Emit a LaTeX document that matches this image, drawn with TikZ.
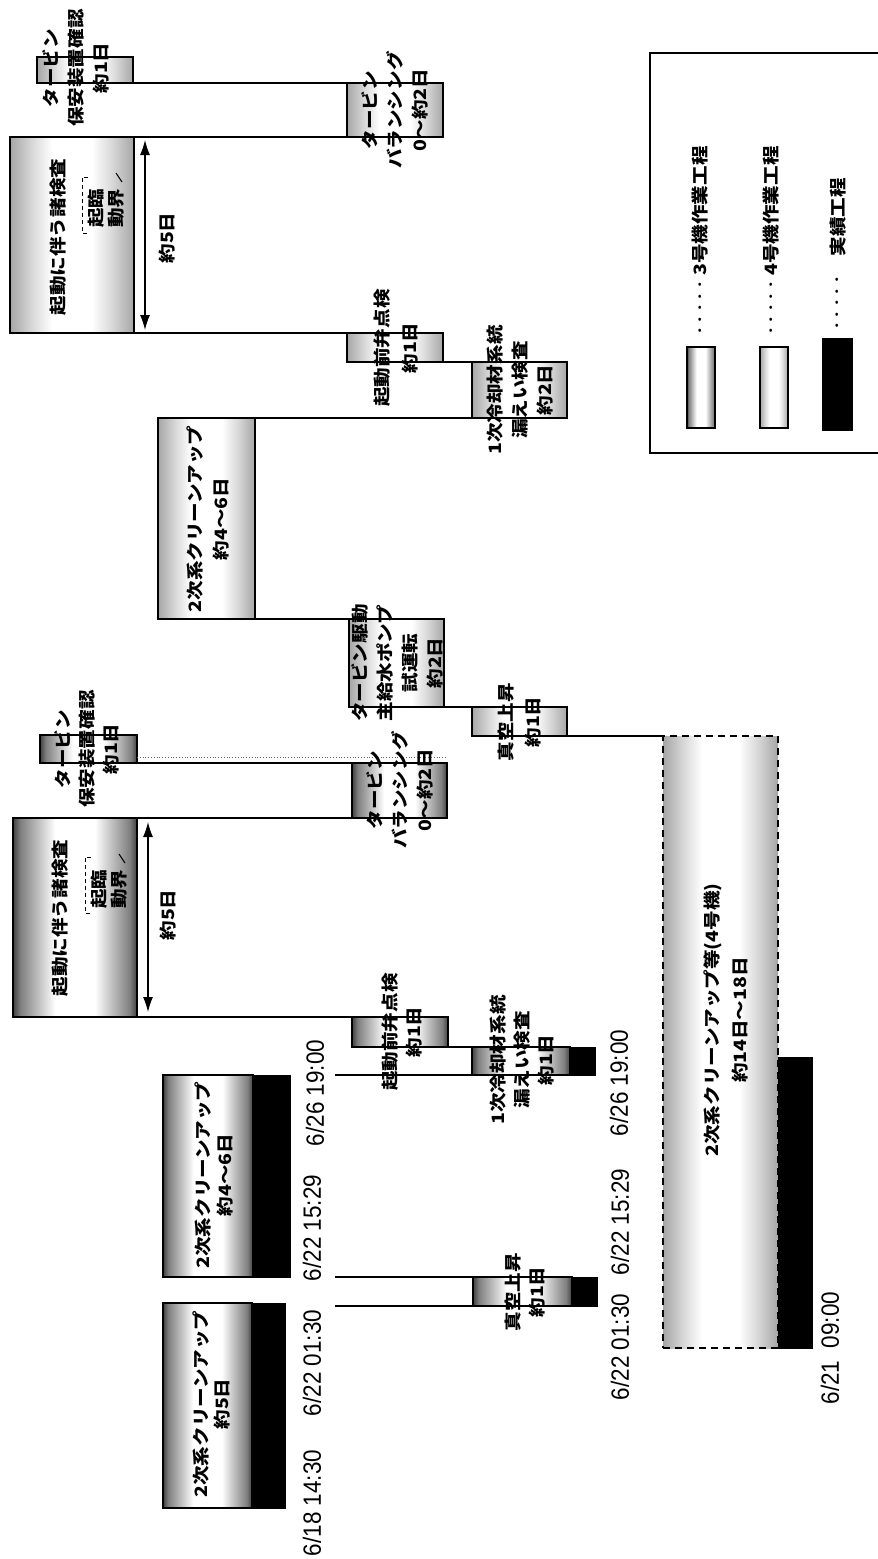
\documentclass[tikz,border=0pt]{standalone}
\usepackage{fontspec}
\newfontfamily\jp[FakeStretch=1.15]{Noto Sans CJK JP}
\newfontfamily\dtf[FakeStretch=0.9]{Liberation Sans}
\usetikzlibrary{arrows.meta}
\pgfdeclarehorizontalshading{sdark}{100bp}{color(0bp)=(black!75); color(25bp)=(black!75); color(28bp)=(black!50); color(36bp)=(black!22); color(42bp)=(white); color(58bp)=(white); color(64bp)=(black!22); color(72bp)=(black!50); color(75bp)=(black!75); color(100bp)=(black!75)}
\pgfdeclarehorizontalshading{slight}{100bp}{color(0bp)=(black!35); color(25bp)=(black!35); color(34bp)=(black!15); color(42bp)=(white); color(58bp)=(white); color(66bp)=(black!15); color(75bp)=(black!35); color(100bp)=(black!35)}
\begin{document}
\begin{tikzpicture}[x=1pt,y=-1pt, line width=1.2pt,
 bx/.style={draw=black, anchor=north west, inner sep=0pt, outer sep=0pt, line width=1.2pt},
 b3/.style={bx, shade, shading=sdark},
 b4/.style={bx, shade, shading=slight},
 blk/.style={anchor=north west, fill=black, draw=black, line width=0.6pt, inner sep=0pt, outer sep=0pt},
 lbl/.style={rotate=90, align=center, inner sep=0pt, font=\jp\bfseries\fontsize{17}{#1}\selectfont},
 lbl/.default=25,
 dt/.style={rotate=90, inner sep=0pt, font=\dtf\fontsize{25}{25}\selectfont},
 conn/.style={line width=1.4pt},
 dimarrow/.style={line width=1.2pt, {Latex[length=15pt,width=10pt]}-{Latex[length=15pt,width=10pt]}},
 brk/.style={line width=1pt, dash pattern=on 4pt off 3pt}
]
\useasboundingbox (0,0) rectangle (878,1559);

% ---------------- upper chain (light) ----------------
\node[b4, minimum width=96pt, minimum height=26pt] (uhoan) at (37,57) {};
\node[b4, minimum width=96pt, minimum height=54pt] (ubal) at (347,83) {};
\node[b4, minimum width=124pt, minimum height=196pt] (ukido) at (10,137) {};
\node[b4, minimum width=96pt, minimum height=29pt] (uben) at (347,333) {};
\node[b4, minimum width=95pt, minimum height=56pt] (urei) at (472,362) {};
\node[b4, minimum width=97pt, minimum height=201pt] (ucln) at (158,418) {};
\node[b4, minimum width=95pt, minimum height=88pt] (upump) at (349,619) {};
\node[b4, minimum width=95pt, minimum height=29pt] (ushin) at (472,707) {};
\node[b4, dashed, dash pattern=on 7pt off 5pt, minimum width=115pt, minimum height=612pt] (ubig) at (663,736) {};
\node[blk, minimum width=34pt, minimum height=291pt] (ublack) at (778,1057) {};

\draw[conn] (uhoan.south east) -- (ubal.north west);
\draw[conn] (ukido.north east) -- (ubal.south west);
\draw[conn] (ukido.south east) -- (uben.north west);
\draw[conn] (uben.south east) -- (urei.north west);
\draw[conn] (ucln.north east) -- (urei.south west);
\draw[conn] (ucln.south east) -- (upump.north west);
\draw[conn] (upump.south east) -- (ushin.north west);
\draw[conn] (ushin.south east) -- (ubig.north west);
\draw[dimarrow] ([xshift=11pt,yshift=-3pt]ukido.north east) -- ([xshift=11pt,yshift=3pt]ukido.south east);

\node[lbl] (tuhoan) at (76,68) {タービン\\保安装置確認\\約1日};
\node[lbl] (tubal) at (395,110) {タービン\\バランシング\\0〜約2日};
\node[lbl] (tukido) at (58,237) {起動に伴う諸検査};
\node[lbl=20] (tukido2) at (106,208) {起臨\\動界};
\draw[brk] (88,177) -- (82,177) -- (82,233) -- (88,233);
\draw[line width=1pt] (116,173) -- (122,182);
\node[lbl] (tu5) at (167,238) {約5日};
\node[lbl=28] (tuben) at (396,348) {起動前弁点検\\約1日};
\node[lbl] (turei) at (520,390) {1次冷却材系統\\漏えい検査\\約2日};
\node[lbl=26] (tucln) at (208,519) {2次系クリーンアップ\\約4〜6日};
\node[lbl] (tupump) at (397,663) {タービン駆動\\主給水ポンプ\\試運転\\約2日};
\node[lbl=27] (tushin) at (520,722) {真空上昇\\約1日};
\node[lbl=28] (tubig) at (726,1020) {2次系クリーンアップ等(4号機)\\約14日〜18日};

% ---------------- lower chain (dark) ----------------
\node[b3, minimum width=97pt, minimum height=28pt] (lhoan) at (40,735) {};
\node[b3, minimum width=95pt, minimum height=55pt] (lbal) at (352,763) {};
\node[b3, minimum width=124pt, minimum height=199pt] (lkido) at (13,818) {};
\node[b3, minimum width=96pt, minimum height=30pt] (lben) at (352,1017) {};
\node[b3, minimum width=98pt, minimum height=28pt] (lrei) at (472,1047) {};
\node[blk, minimum width=25pt, minimum height=28pt] (lreib) at (570,1047) {};
\node[b3, minimum width=90pt, minimum height=202pt] (lcln2) at (163,1075) {};
\node[blk, minimum width=37pt, minimum height=202pt] (lcln2b) at (253,1075) {};
\node[b3, minimum width=99pt, minimum height=29pt] (lshin) at (473,1277) {};
\node[blk, minimum width=25pt, minimum height=29pt] (lshinb) at (572,1277) {};
\node[b3, minimum width=89pt, minimum height=205pt] (lcln1) at (163,1303) {};
\node[blk, minimum width=33pt, minimum height=205pt] (lcln1b) at (252,1303) {};

\coordinate (c1075) at (335,1075);
\coordinate (c1277) at (335,1277);
\coordinate (c1306) at (335,1306);
\coordinate (d757a) at (137,757);
\coordinate (d757b) at (447,757);

\draw[line width=0.8pt, dotted, black!60] (d757a) -- (d757b);
\draw[conn] (lhoan.south east) -- (lbal.north west);
\draw[conn] (lkido.north east) -- (lbal.south west);
\draw[conn] (lkido.south east) -- (lben.north west);
\draw[conn] (lben.south east) -- (lrei.north west);
\draw[conn] (c1075) -- (lrei.south west);
\draw[conn] (c1277) -- (lshin.north west);
\draw[conn] (c1306) -- (lshin.south west);
\draw[dimarrow] ([xshift=11pt,yshift=-4pt]lkido.north east) -- ([xshift=11pt,yshift=5pt]lkido.south east);

\node[lbl=24] (tlhoan) at (87,749) {タービン\\保安装置確認\\約1日};
\node[lbl] (tlbal) at (400,790) {タービン\\バランシング\\0〜約2日};
\node[lbl] (tlkido) at (60,918) {起動に伴う諸検査};
\node[lbl=20] (tlkido2) at (109,889) {起臨\\動界};
\draw[brk] (91,857) -- (85,857) -- (85,913) -- (91,913);
\draw[line width=1pt] (119,854) -- (125,863);
\node[lbl] (tl5) at (168,915) {約5日};
\node[lbl=24] (tlben) at (402,1032) {起動前弁点検\\約1日};
\node[lbl=24] (tlrei) at (522,1060) {1次冷却材系統\\漏えい検査\\約1日};
\node[lbl=22] (tlcln2) at (214,1175) {2次系クリーンアップ\\約4〜6日};
\node[lbl=24] (tlshin) at (525,1292) {真空上昇\\約1日};
\node[lbl=21] (tlcln1) at (211,1404) {2次系クリーンアップ\\約5日};

% ---------------- dates ----------------
\node[dt] (d1) at (312,1503) {6/18 14:30};
\node[dt] (d2) at (312,1363) {6/22 01:30};
\node[dt] (d3) at (312,1228) {6/22 15:29};
\node[dt] (d4) at (315,1093) {6/26 19:00};
\node[dt] (d5) at (620,1347) {6/22 01:30};
\node[dt] (d6) at (620,1222) {6/22 15:29};
\node[dt] (d7) at (619,1083) {6/26 19:00};
\node[dt] (d8) at (830,1348) {6/21\ \ 09:00};

% ---------------- legend ----------------
\draw[line width=1.2pt] (880,53) -- (650,53) -- (650,453) -- (880,453);
\node[b3, minimum width=28pt, minimum height=81pt] (sw1) at (687,347) {};
\node[b4, minimum width=28pt, minimum height=81pt] (sw2) at (760,347) {};
\node[blk, minimum width=30pt, minimum height=92pt] (sw3) at (822,338) {};
\node[lbl, font=\jp\bfseries\fontsize{10}{10}\selectfont] (dot1) at (701,308) {・・・・・};
\node[lbl, font=\jp\bfseries\fontsize{10}{10}\selectfont] (dot2) at (772,308) {・・・・・};
\node[lbl, font=\jp\bfseries\fontsize{10}{10}\selectfont] (dot3) at (838,303) {・・・・・};
\node[lbl] (lg1) at (700,211) {3号機作業工程};
\node[lbl] (lg2) at (771,211) {4号機作業工程};
\node[lbl] (lg3) at (838,217) {実績工程};
\end{tikzpicture}
\end{document}
